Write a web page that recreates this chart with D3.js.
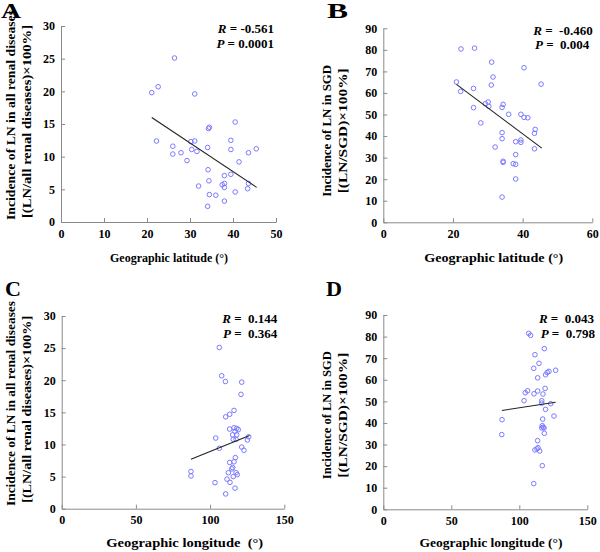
<!DOCTYPE html>
<html>
<head>
<meta charset="utf-8">
<script src="https://cdn.jsdelivr.net/npm/d3@7"></script>
<style>
  html, body { margin: 0; padding: 0; background: #fff; }
  svg { display: block; }
</style>
</head>
<body>
<svg id="chart" width="600" height="552"></svg>
<script>
// ---------------- DATA ----------------
// Panel A: latitude vs incidence of LN in all renal diseases (%)
const latA = [26.4,21.1,22.6,31.1,22.2,26.0,26.0,27.9,29.3,30.2,31.1,30.4,31.6,34.3,34.5,34.1,40.5,39.5,39.5,43.6,45.4,41.4,34.2,34.4,38.0,39.5,32.0,37.5,38.0,38.0,43.6,43.4,34.5,36.0,40.5,38.0,34.1];
const lnA  = [25.1,19.8,20.7,19.6,12.4,11.6,10.4,10.6,9.4,12.3,12.4,11.1,10.8,14.3,14.5,11.4,15.3,12.5,11.1,10.6,11.2,9.2,8.0,6.3,7.1,7.3,5.5,5.7,5.9,5.3,5.9,5.1,4.2,4.1,4.6,3.2,2.4];
// Panel B: latitude vs incidence of LN in SGD (%)
const latB = [22.3,26.2,31.1,40.4,31.5,21.0,31.0,45.3,25.9,22.2,30.1,29.3,30.3,25.9,34.4,34.1,36.0,39.5,40.4,41.5,28.0,43.6,43.4,34.1,34.1,39.5,39.5,38.0,32.1,43.4,38.0,34.4,34.4,37.3,38.0,38.0,34.1];
const sgdB = [80.4,80.8,74.3,71.7,67.4,65.1,63.7,64.1,62.1,60.7,55.8,55.0,53.8,53.2,54.7,53.3,50.1,50.1,48.7,48.5,46.1,43.1,41.3,41.6,38.8,38.2,37.1,37.4,34.9,34.1,31.4,28.3,27.8,27.2,26.9,20.1,11.7];
// Panel C: longitude vs incidence of LN in all renal diseases (%)
const lonC = [106.2,107.8,110.3,121.3,120.8,116.1,113.2,110.5,113.2,116.1,117.9,119.0,116.8,115.2,117.9,103.8,115.6,117.5,126.0,125.1,121.3,122.8,106.2,117.0,113.2,116.1,115.2,114.6,87.1,87.1,112.3,117.5,118.3,115.6,111.4,113.4,103.3,116.8,110.5];
const lnC  = [25.1,20.7,19.8,19.7,17.8,15.3,14.7,14.3,12.4,12.6,12.5,12.3,12.05,11.5,11.5,11.0,10.8,10.8,11.2,10.7,9.6,9.1,9.4,7.95,7.2,7.3,6.4,6.2,5.8,5.1,5.6,5.6,5.3,5.0,4.6,4.1,4.05,3.2,2.3];
// Panel D: longitude vs incidence of LN in SGD (%)
const lonD = [106.9,108.3,118.4,111.5,114.5,110.6,121.8,120.5,126.7,119.3,113.5,119.0,106.1,104.4,113.5,110.8,117.4,103.5,116.5,116.5,123.1,119.3,125.5,87.3,117.2,116.9,117.6,116.5,118.2,118.4,87.1,113.5,111.5,113.0,113.8,115.0,116.9,110.6];
const sgdD = [81.5,80.6,74.4,71.6,67.6,65.3,63.9,63.4,64.4,62.3,60.9,56.0,54.9,54.0,54.8,53.5,53.4,50.3,50.3,49.2,48.9,46.3,43.2,41.5,41.8,38.7,38.0,37.7,37.7,35.2,34.6,31.8,27.5,28.0,28.5,27.0,20.2,11.9];

// Regression line end points [x, y]
const fitA = [[21.1, 16.0], [45.5, 5.3]];
const fitB = [[21.0, 64.0], [45.5, 34.4]];
const fitC = [[87.1, 7.7], [126.6, 11.4]];
const fitD = [[87.2, 45.8], [126.7, 49.6]];

// Tick values
const ticksLat   = [0, 10, 20, 30, 40, 50];
const ticksLat60 = [0, 20, 40, 60];
const ticksLon   = [0, 50, 100, 150];
const ticksPct30 = [0, 5, 10, 15, 20, 25, 30];
const ticksPct90 = [0, 10, 20, 30, 40, 50, 60, 70, 80, 90];

// Texts
const panelLetters = ["A", "B", "C", "D"];
const statsR = ["-0.561", "-0.460", "0.144", "0.043"];
const statsP = ["0.0001", "0.004", "0.364", "0.798"];
const xTitles = ["Geographic latitude (°)", "Geographic latitude (°)", "Geographic longitude  (°)", "Geographic longitude (°)"];
const yTitles1 = ["Incidence of LN in all renal diseases", "Incidence of LN in SGD", "Incidence of LN in all renal diseases", "Incidence of LN in SGD"];
const yTitles2 = ["[(LN/all renal diseases)×100%]", "[(LN/SGD)×100%]", "[(LN/all renal diseases)×100%]", "[(LN/SGD)×100%]"];

// ---------------- LAYOUT ----------------
const FONT = "'Liberation Serif','Times New Roman',serif";
const svg = d3.select("#chart");

const panels = [
  { xs: latA, ys: lnA,  fit: fitA, xDom: [0, 50],  yDom: [0, 30], xt: ticksLat,   yt: ticksPct30,
    box: { x0: 61, x1: 276, y0: 26, y1: 222 },
    letter: { x: 1, y: 18, len: 20 },
    stats: { x: 274, yR: 33, yP: 47.5 },
    xTitle: { x: 169, y: 262, len: 118 },
    yT1: { x: 14.5, y: 115, len: 210 }, yT2: { x: 30.5, y: 121.5, len: 193 } },
  { xs: latB, ys: sgdB, fit: fitB, xDom: [0, 60],  yDom: [0, 90], xt: ticksLat60, yt: ticksPct90,
    box: { x0: 383.3, x1: 592.3, y0: 28.3, y1: 222.3 },
    letter: { x: 327, y: 18, len: 21 },
    stats: { x: 592.7, yR: 35, yP: 49, xP: 589.3 },
    xTitle: { x: 493.7, y: 262, len: 139 },
    yT1: { x: 331, y: 130.8, len: 132 }, yT2: { x: 347, y: 130.8, len: 125 } },
  { xs: lonC, ys: lnC,  fit: fitC, xDom: [0, 150], yDom: [0, 30], xt: ticksLon,   yt: ticksPct30,
    box: { x0: 61.7, x1: 284.3, y0: 316, y1: 508.7 },
    letter: { x: 5, y: 296, len: 16 },
    stats: { x: 277.3, yR: 323, yP: 338 },
    xTitle: { x: 184.7, y: 546.7, len: 157 },
    yT1: { x: 14.5, y: 403.5, len: 205 }, yT2: { x: 30.5, y: 409.3, len: 187 } },
  { xs: lonD, ys: sgdD, fit: fitD, xDom: [0, 150], yDom: [0, 90], xt: ticksLon,   yt: ticksPct90,
    box: { x0: 383.3, x1: 587.3, y0: 315, y1: 509.3 },
    letter: { x: 326, y: 296, len: 16 },
    stats: { x: 594, yR: 323, yP: 337.5, xP: 595 },
    xTitle: { x: 491, y: 546.7, len: 143 },
    yT1: { x: 331, y: 415.2, len: 128 }, yT2: { x: 347, y: 415.2, len: 125 } }
];

const AXIS_COLOR = "#8a8a8a";
const MARK_COLOR = "#7a7aff";

panels.forEach((p, i) => {
  const g = svg.append("g");
  const x = d3.scaleLinear().domain(p.xDom).range([p.box.x0, p.box.x1]);
  const y = d3.scaleLinear().domain(p.yDom).range([p.box.y1, p.box.y0]);

  // axes
  const gx = g.append("g").attr("transform", `translate(0,${p.box.y1})`)
    .call(d3.axisBottom(x).tickValues(p.xt).tickFormat(d3.format("d"))
      .tickSizeInner(-4).tickSizeOuter(0).tickPadding(7));
  const gy = g.append("g").attr("transform", `translate(${p.box.x0},0)`)
    .call(d3.axisLeft(y).tickValues(p.yt).tickFormat(d3.format("d"))
      .tickSizeInner(-4).tickSizeOuter(0).tickPadding(6));
  [gx, gy].forEach(a => {
    a.select(".domain").attr("stroke", AXIS_COLOR).attr("stroke-width", 1);
    a.selectAll(".tick line").attr("stroke", AXIS_COLOR).attr("stroke-width", 1);
    a.selectAll(".tick text").attr("fill", "#000")
      .style("font-family", FONT).style("font-size", "12px").style("font-weight", "bold");
  });

  // points
  g.append("g").selectAll("circle")
    .data(p.xs.map((v, k) => [v, p.ys[k]]))
    .join("circle")
    .attr("cx", d => x(d[0]))
    .attr("cy", d => y(d[1]))
    .attr("r", 2.3)
    .attr("fill", "none")
    .attr("stroke", MARK_COLOR)
    .attr("stroke-width", 1);

  // regression line
  g.append("line")
    .attr("x1", x(p.fit[0][0])).attr("y1", y(p.fit[0][1]))
    .attr("x2", x(p.fit[1][0])).attr("y2", y(p.fit[1][1]))
    .attr("stroke", "#222").attr("stroke-width", 1.1);

  // panel letter
  g.append("text").attr("x", p.letter.x).attr("y", p.letter.y)
    .attr("textLength", p.letter.len).attr("lengthAdjust", "spacingAndGlyphs")
    .style("font-family", FONT).style("font-size", "20px").style("font-weight", "bold")
    .text(panelLetters[i]);

  // stats
  const st = (yy, label, val, xx) => {
    const t = g.append("text").attr("x", xx).attr("y", yy).attr("text-anchor", "end")
      .style("font-family", FONT).style("font-size", "13px").style("font-weight", "bold")
      .style("white-space", "pre");
    t.append("tspan").style("font-style", "italic").text(label);
    t.append("tspan").text(" = " + (i > 0 ? " " : "") + val);
  };
  st(p.stats.yR, "R", statsR[i], p.stats.x);
  st(p.stats.yP, "P", statsP[i], p.stats.xP || p.stats.x);

  // x title
  g.append("text").attr("x", p.xTitle.x).attr("y", p.xTitle.y).attr("text-anchor", "middle")
    .attr("textLength", p.xTitle.len).attr("lengthAdjust", "spacingAndGlyphs")
    .style("font-family", FONT).style("font-size", "13px").style("font-weight", "bold")
    .style("white-space", "pre")
    .text(xTitles[i]);

  // y titles
  [[p.yT1, yTitles1[i]], [p.yT2, yTitles2[i]]].forEach(([pos, txt]) => {
    g.append("text")
      .attr("transform", `translate(${pos.x},${pos.y}) rotate(-90)`)
      .attr("text-anchor", "middle")
      .attr("textLength", pos.len).attr("lengthAdjust", "spacingAndGlyphs")
      .style("font-family", FONT).style("font-size", "13px").style("font-weight", "bold")
      .text(txt);
  });
});
</script>
</body>
</html>
